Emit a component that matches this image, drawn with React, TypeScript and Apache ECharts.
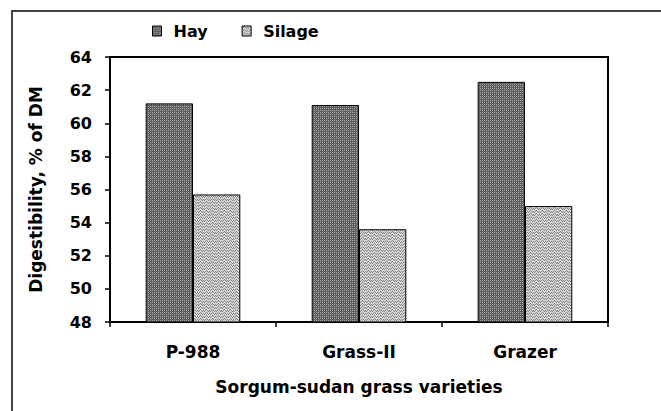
import React, { useEffect, useRef } from "react";
import * as echarts from "echarts";

const categories = ["P-988", "Grass-II", "Grazer"];
const hayValues = [61.2, 61.1, 62.5];
const silageValues = [55.7, 53.6, 55.0];
const seriesNames = ["Hay", "Silage"];
const yAxisTitle = "Digestibility, % of DM";
const xAxisTitle = "Sorgum-sudan grass varieties";

function makeHayPattern(): string {
  const c = document.createElement("canvas");
  c.width = 4;
  c.height = 4;
  const ctx = c.getContext("2d")!;
  ctx.fillStyle = "#575757";
  ctx.fillRect(0, 0, 4, 4);
  ctx.fillStyle = "#a8a8a8";
  ctx.fillRect(0, 0, 1, 1);
  ctx.fillRect(2, 0, 1, 1);
  ctx.fillRect(0, 2, 1, 1);
  ctx.fillRect(2, 2, 1, 1);
  ctx.fillStyle = "#7a7a7a";
  ctx.fillRect(1, 1, 1, 1);
  ctx.fillRect(3, 3, 1, 1);
  return c.toDataURL();
}

function makeSilagePattern(): string {
  const c = document.createElement("canvas");
  c.width = 6;
  c.height = 6;
  const ctx = c.getContext("2d")!;
  ctx.fillStyle = "#d4d4d4";
  ctx.fillRect(0, 0, 6, 6);
  ctx.fillStyle = "#858585";
  const pts = [
    [0, 2], [1, 1], [2, 0], [3, 1], [4, 2], [5, 1],
    [0, 5], [1, 4], [2, 3], [3, 4], [4, 5], [5, 4],
  ];
  pts.forEach(([x, y]) => ctx.fillRect(x, y, 1, 1));
  return c.toDataURL();
}

export default function App() {
  const ref = useRef<HTMLDivElement>(null);
  useEffect(() => {
    if (!ref.current) return;
    const chart = echarts.init(ref.current, null, { renderer: "svg" });
    const hayFill = { image: makeHayPattern(), repeat: "repeat" } as any;
    const silFill = { image: makeSilagePattern(), repeat: "repeat" } as any;
    const font = "'DejaVu Sans', Verdana, sans-serif";
    chart.setOption({
      animation: false,
      backgroundColor: "#ffffff",
      textStyle: { fontFamily: font },
      graphic: [
        {
          type: "rect",
          shape: { x: 12, y: 11, width: 700, height: 500 },
          style: { fill: "none", stroke: "#444", lineWidth: 2 },
          silent: true,
        },
      ],
      legend: {
        left: 147,
        top: 18,
        itemWidth: 9,
        itemHeight: 10,
        itemGap: 34,
        textStyle: {
          fontFamily: font,
          fontWeight: "bold",
          fontSize: 16,
          color: "#000",
          padding: [0, 0, 0, 7],
        },
        data: seriesNames.map((n, i) => ({
          name: n,
          icon: "rect",
          itemStyle: { color: i === 0 ? hayFill : silFill, borderColor: "#000", borderWidth: 1 },
        })),
      },
      grid: {
        left: 110,
        right: 53,
        top: 57,
        bottom: 89,
        show: true,
        borderColor: "#000",
        borderWidth: 2,
        backgroundColor: "#fff",
      },
      xAxis: {
        type: "category",
        data: categories,
        name: xAxisTitle,
        nameLocation: "middle",
        nameGap: 56,
        nameTextStyle: { fontFamily: font, fontWeight: "bold", fontSize: 17, color: "#000" },
        axisLine: { lineStyle: { color: "#000", width: 2 } },
        axisTick: { show: true, length: 5, lineStyle: { color: "#000", width: 1.5 } },
        axisLabel: { fontFamily: font, fontWeight: "bold", fontSize: 17, color: "#000", margin: 21 },
      },
      yAxis: {
        type: "value",
        min: 48,
        max: 64,
        interval: 2,
        name: yAxisTitle,
        nameLocation: "middle",
        nameGap: 66,
        nameTextStyle: { fontFamily: font, fontWeight: "bold", fontSize: 17, color: "#000" },
        axisLine: { show: true, lineStyle: { color: "#000", width: 2 } },
        axisTick: { show: true, length: 5, lineStyle: { color: "#000", width: 1.5 } },
        axisLabel: { fontFamily: font, fontWeight: "bold", fontSize: 16, color: "#000", margin: 18 },
        splitLine: { show: false },
      },
      series: [
        {
          name: seriesNames[0],
          type: "bar",
          data: hayValues,
          barGap: "0%",
          barCategoryGap: "43%",
          itemStyle: { color: hayFill, borderColor: "#000", borderWidth: 1 },
        },
        {
          name: seriesNames[1],
          type: "bar",
          data: silageValues,
          barGap: "0%",
          barCategoryGap: "43%",
          itemStyle: { color: silFill, borderColor: "#000", borderWidth: 1 },
        },
      ],
    });
    return () => chart.dispose();
  }, []);
  return (
    <div
      ref={ref}
      style={{ position: "fixed", left: 0, top: 0, width: 661, height: 411 }}
    />
  );
}
